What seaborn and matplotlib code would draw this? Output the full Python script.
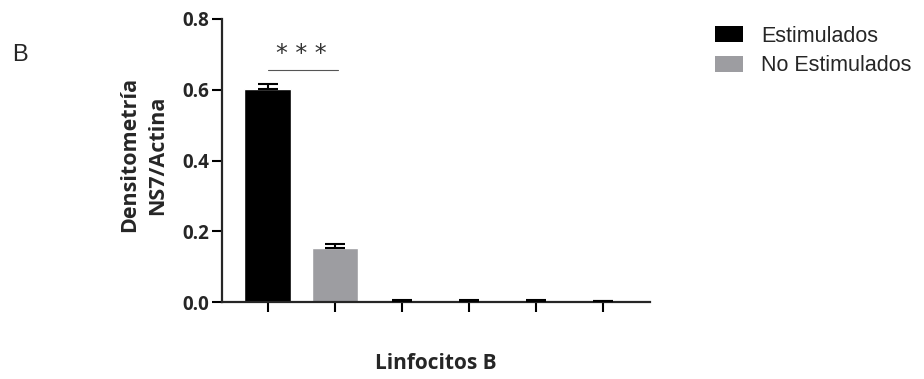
import matplotlib
matplotlib.use("Agg")
import matplotlib.pyplot as plt
import seaborn as sns
import pandas as pd
from matplotlib.patches import Patch

categories = ["c1", "c2", "c3", "c4", "c5", "c6"]
groups = ["Estimulados", "No Estimulados", "Estimulados", "No Estimulados", "Estimulados", "No Estimulados"]
values = [0.602, 0.153, 0.004, 0.004, 0.004, 0.003]
errors = [0.015, 0.010, 0.002, 0.002, 0.002, 0.001]
yticks = [0.0, 0.2, 0.4, 0.6, 0.8]
legend_labels = ["Estimulados", "No Estimulados"]
colors = {"Estimulados": "#000000", "No Estimulados": "#9d9da1"}

df = pd.DataFrame({"cat": categories, "group": groups, "val": values, "err": errors})

sns.set_theme(style="ticks")
plt.rcParams["font.family"] = ["Open Sans", "DejaVu Sans"]

fig = plt.figure(figsize=(9.24, 3.79), dpi=100)
ax = fig.add_axes([222/924, 1-302/379, (650-222)/924, (302-19)/379])

sns.barplot(data=df, x="cat", y="val", hue="group", palette=colors, dodge=False,
            width=0.69, ax=ax, legend=False, errorbar=None, saturation=1)
ax.errorbar(range(len(values)), values, yerr=[[0]*len(errors), errors], fmt="none",
            ecolor="black", elinewidth=1.5, capsize=7, capthick=1.5, zorder=3)

ax.set_xlim(-0.68, 5.70)
ax.set_ylim(0, 0.8)
ax.set_yticks(yticks)
ax.set_yticklabels([f"{t:.1f}" for t in yticks], fontsize=13.5, fontweight="bold")
ax.set_xticks(range(len(categories)))
ax.set_xticklabels([])
for s in ["top", "right"]:
    ax.spines[s].set_visible(False)
for s in ["left", "bottom"]:
    ax.spines[s].set_linewidth(1.6)
ax.tick_params(axis="both", width=1.5, length=7, color="black")
ax.tick_params(axis="y", pad=2)

ax.set_ylabel("Densitometría\nNS7/Actina", fontsize=15.5, fontweight="bold", linespacing=1.45)
ax.yaxis.set_label_coords(-0.125, 0.52)
ax.set_xlabel("Linfocitos B", fontsize=15, fontweight="bold")
ax.xaxis.set_label_coords(0.5, -0.18)

# significance bar
ax.plot([0, 1.05], [0.655, 0.655], color="#555555", lw=0.8, clip_on=False)
ax.text(0.5, 0.668, "* * *", ha="center", va="bottom", fontsize=17, color="#333333",
        family=["DejaVu Sans"])

handles = [Patch(facecolor=colors[l], edgecolor="none") for l in legend_labels]
fig.legend(handles, legend_labels, loc="upper left", bbox_to_anchor=(706/924, 1-17/379),
           frameon=False, prop={"family": "Liberation Sans", "size": 15.5},
           handlelength=1.3, handleheight=0.75, handletextpad=0.85, labelspacing=0.4,
           borderaxespad=0)

fig.text(12/924, 1-55/379, "B", fontsize=17, family="Liberation Sans", va="center", ha="left")

fig.savefig("out.png", dpi=100)
